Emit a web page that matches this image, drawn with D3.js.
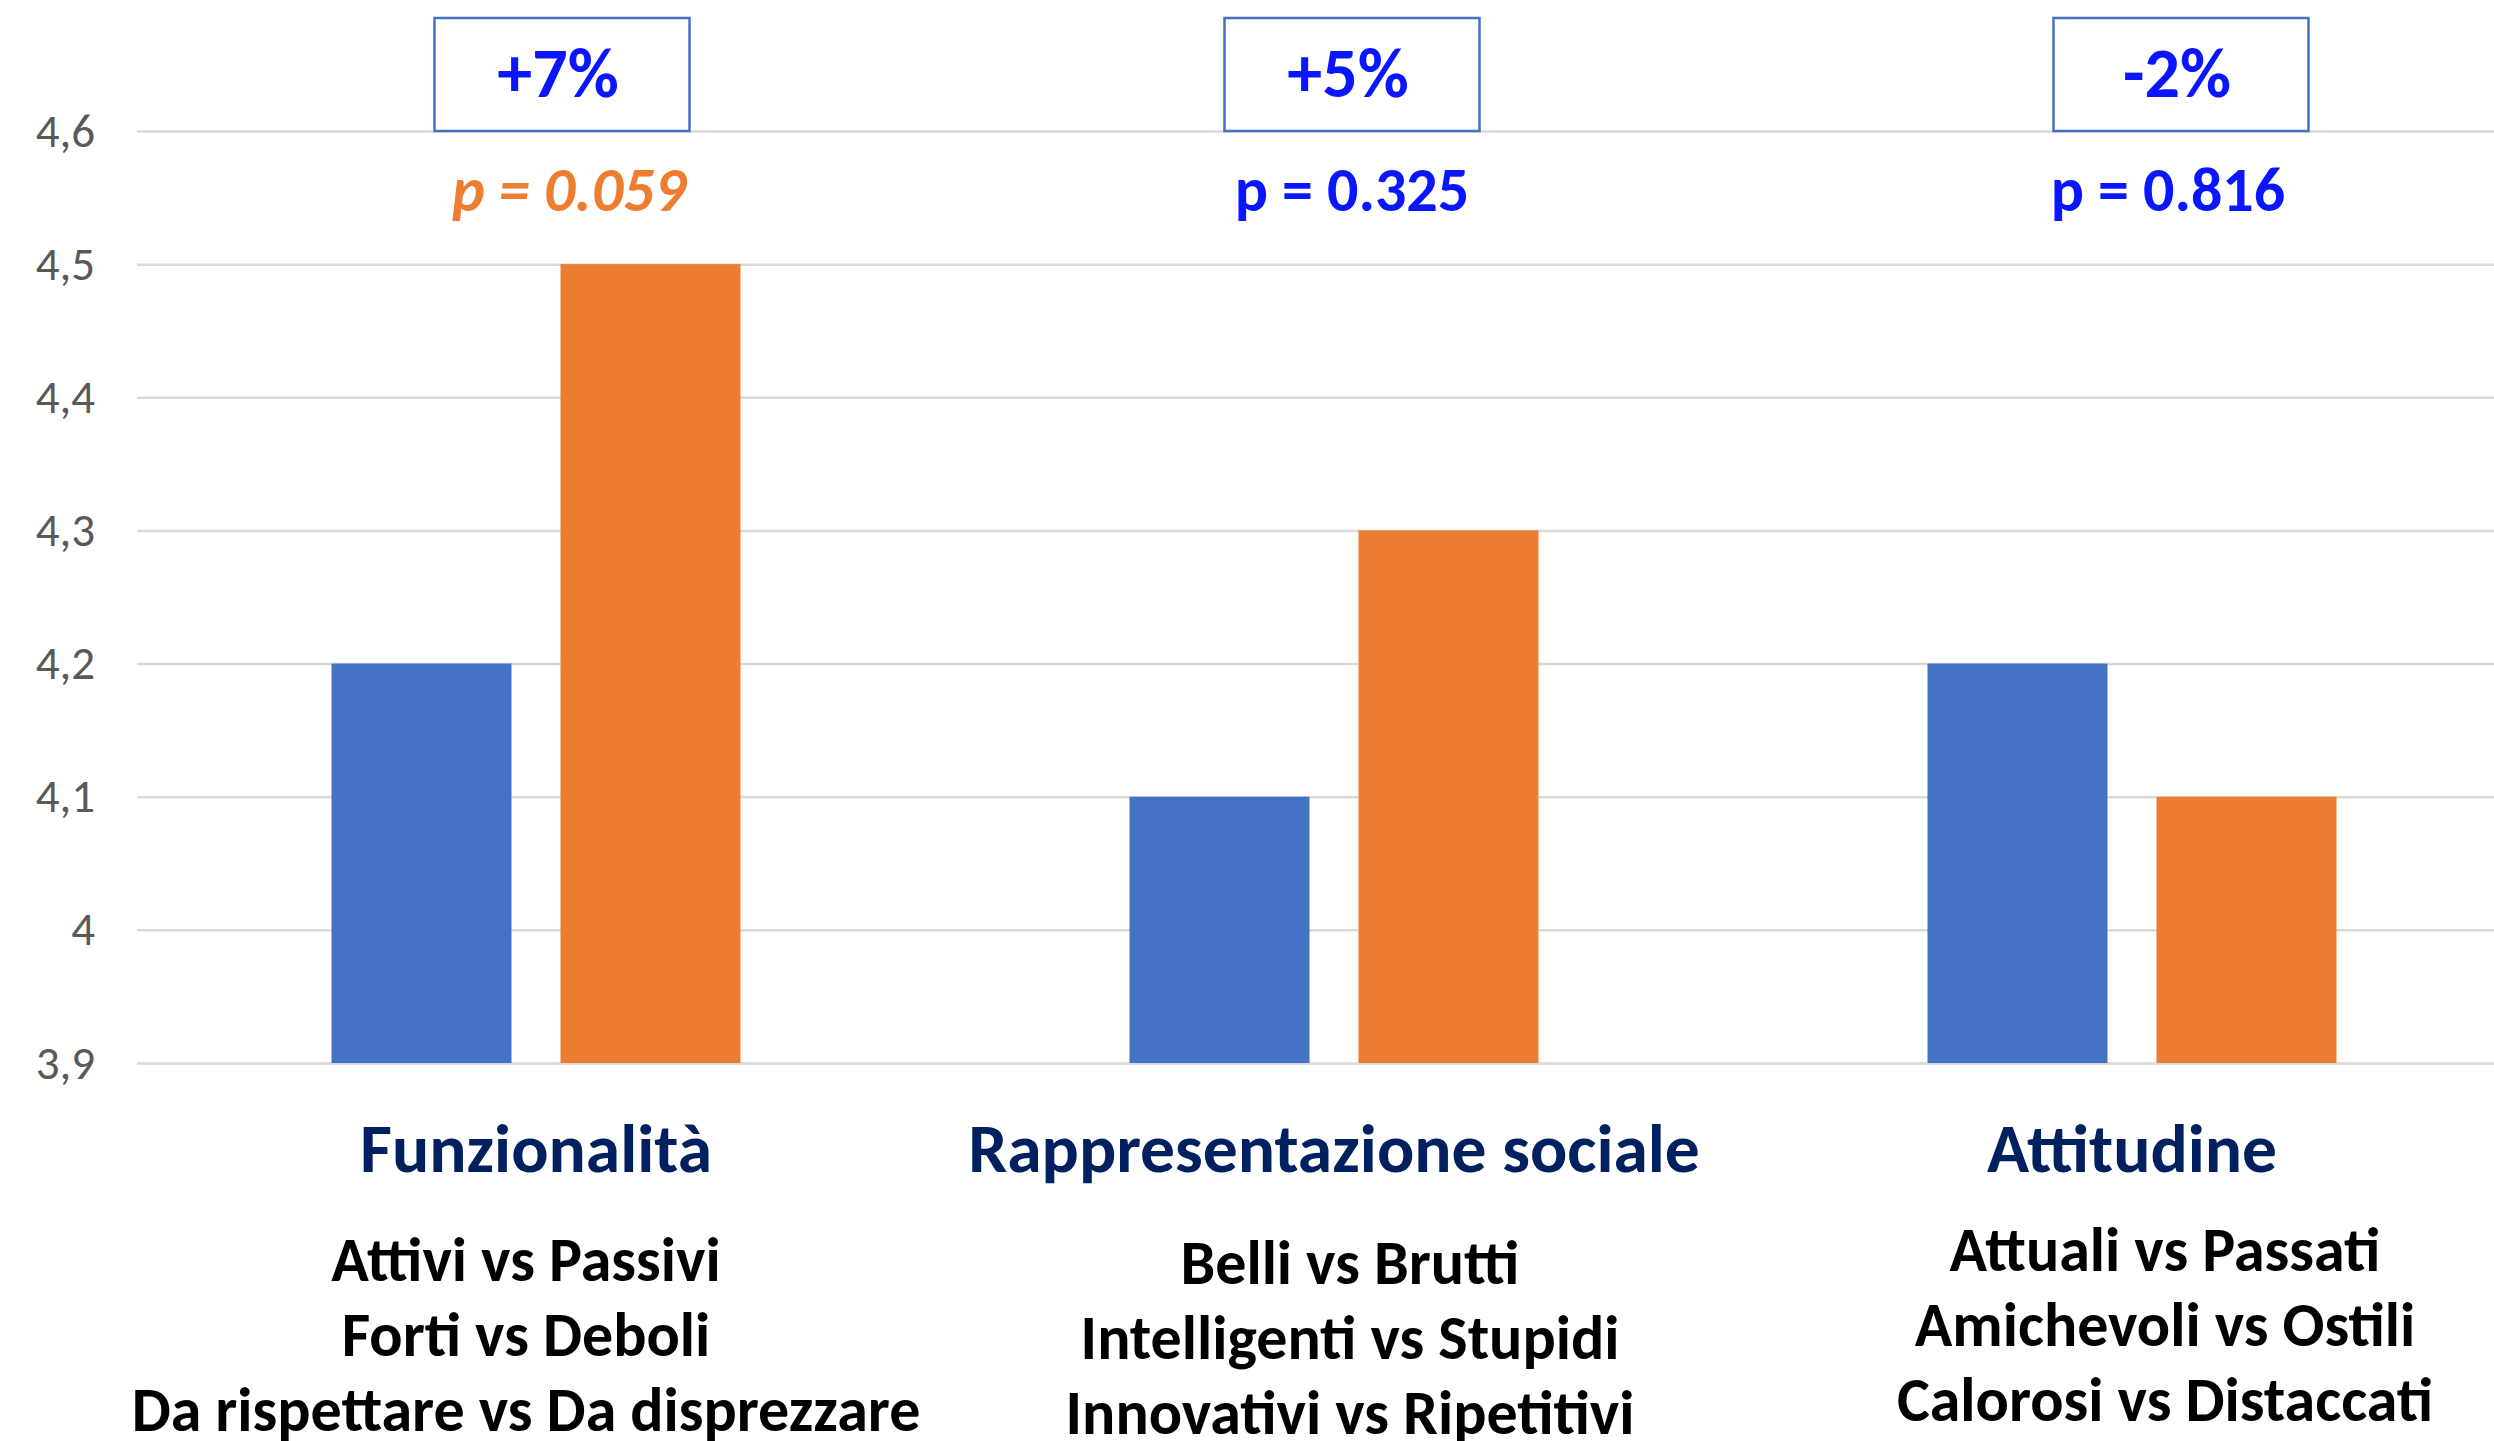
<!DOCTYPE html>
<html>
<head>
<meta charset="utf-8">
<title>Funzionalità, Rappresentazione sociale, Attitudine</title>
<style>
	html, body {margin:0px; padding:0px; background:#fff;}
	svg {display:block;}
	text {font-family: Carlito, Calibri, Lato, sans-serif;}
</style>
</head>
<body>

<svg></svg>

<script src="https://d3js.org/d3.v7.min.js"></script>
<script>

	// data
	const categories = ['Funzionalità', 'Rappresentazione sociale', 'Attitudine'];
	const seriesBlue = [4.2, 4.1, 4.2];
	const seriesOrange = [4.5, 4.3, 4.1];
	const deltas = ['+7%', '+5%', '-2%'];
	const pValues = ['p = 0.059', 'p = 0.325', 'p = 0.816'];
	const pSignificant = [true, false, false];
	const subLabels = [
		['Attivi vs Passivi', 'Forti vs Deboli', 'Da rispettare vs Da disprezzare'],
		['Belli vs Brutti', 'Intelligenti vs Stupidi', 'Innovativi vs Ripetitivi'],
		['Attuali vs Passati', 'Amichevoli vs Ostili', 'Calorosi vs Distaccati']
	];
	const yTicks = [3.9, 4.0, 4.1, 4.2, 4.3, 4.4, 4.5, 4.6];

	// layout
	const width = 2494, height = 1441;
	const plot = {left: 137, right: 2531, top: 131, bottom: 1063};
	// small hand placed shifts of the text boxes, as in the original slide
	const boxNudge = [26, 18, 49];
	const pNudge = [33, 18, 36];
	const subNudge = [-10, 16, 33];
	const subTop = [1281, 1284, 1271];

	const blue = '#4472C4', orange = '#ED7D31';

	const svg = d3.select('svg')
		.attr('width', width)
		.attr('height', height);

	const x0 = d3.scaleBand()
		.domain(categories)
		.range([plot.left, plot.right])
		.paddingInner(0.4875)
		.paddingOuter(0.24375);

	const x1 = d3.scaleBand()
		.domain([0, 1])
		.range([0, x0.bandwidth()])
		.paddingInner(0.214);

	const y = d3.scaleLinear()
		.domain([3.9, 4.6])
		.range([plot.bottom, plot.top]);

	const itLocale = d3.formatLocale({decimal: ',', thousands: '.', grouping: [3], currency: ['€', '']});
	const fmt = itLocale.format('~g');

	// y axis with gridlines
	const yAxis = svg.append('g')
		.attr('transform', 'translate(' + plot.left + ',0)')
		.call(d3.axisLeft(y)
			.tickValues(yTicks)
			.tickSize(-(width - plot.left))
			.tickPadding(42)
			.tickFormat(fmt));
	yAxis.select('.domain').remove();
	yAxis.selectAll('.tick line')
		.attr('stroke', '#D9D9D9')
		.attr('stroke-width', 2.5);
	yAxis.selectAll('.tick text')
		.attr('fill', '#595959')
		.attr('font-size', 47)
		.attr('dy', '0.32em');

	// bars
	const rows = categories.map(function(c, i) {
		return {cat: c, vals: [seriesBlue[i], seriesOrange[i]]};
	});

	const groups = svg.append('g').selectAll('g')
		.data(rows)
		.join('g')
		.attr('transform', function(d) { return 'translate(' + x0(d.cat) + ',0)'; });

	groups.selectAll('rect')
		.data(function(d) { return d.vals; })
		.join('rect')
		.attr('x', function(d, i) { return x1(i); })
		.attr('width', x1.bandwidth())
		.attr('y', function(d) { return y(d); })
		.attr('height', function(d) { return y(3.9) - y(d); })
		.attr('fill', function(d, i) { return i === 0 ? blue : orange; });

	// x axis (category names)
	const xAxis = svg.append('g')
		.attr('transform', 'translate(0,' + plot.bottom + ')')
		.call(d3.axisBottom(x0).tickSize(0).tickPadding(0));
	xAxis.select('.domain').remove();
	xAxis.selectAll('.tick text')
		.attr('y', 1172 - plot.bottom)
		.attr('dy', 0)
		.attr('fill', '#002060')
		.attr('font-size', 69.5)
		.attr('font-weight', 'bold');

	const cx = function(i) { return x0(categories[i]) + x0.bandwidth() / 2; };

	// sub labels
	subLabels.forEach(function(lines, i) {
		svg.append('text')
			.attr('text-anchor', 'middle')
			.attr('font-size', 62)
			.attr('font-weight', 'bold')
			.attr('fill', '#000')
			.selectAll('tspan')
			.data(lines)
			.join('tspan')
			.attr('x', cx(i) + subNudge[i])
			.attr('y', function(d, j) { return subTop[i] + j * 75; })
			.text(function(d) { return d; });
	});

	// delta boxes
	const boxW = 255, boxH = 113;
	deltas.forEach(function(d, i) {
		const bx = cx(i) + boxNudge[i];
		svg.append('rect')
			.attr('x', bx - boxW / 2)
			.attr('y', y(4.6) - boxH)
			.attr('width', boxW)
			.attr('height', boxH)
			.attr('fill', '#fff')
			.attr('stroke', blue)
			.attr('stroke-width', 2.5);
		svg.append('text')
			.attr('x', bx - 4)
			.attr('y', 97)
			.attr('text-anchor', 'middle')
			.attr('font-size', 70)
			.attr('font-weight', 'bold')
			.attr('fill', '#0A16FF')
			.text(d);
	});

	// p values
	pValues.forEach(function(p, i) {
		svg.append('text')
			.attr('x', cx(i) + pNudge[i])
			.attr('y', 211)
			.attr('text-anchor', 'middle')
			.attr('font-size', 62)
			.attr('font-weight', 'bold')
			.attr('font-style', pSignificant[i] ? 'italic' : 'normal')
			.attr('fill', pSignificant[i] ? orange : '#0A16FF')
			.text(p);
	});

</script>
</body>
</html>
